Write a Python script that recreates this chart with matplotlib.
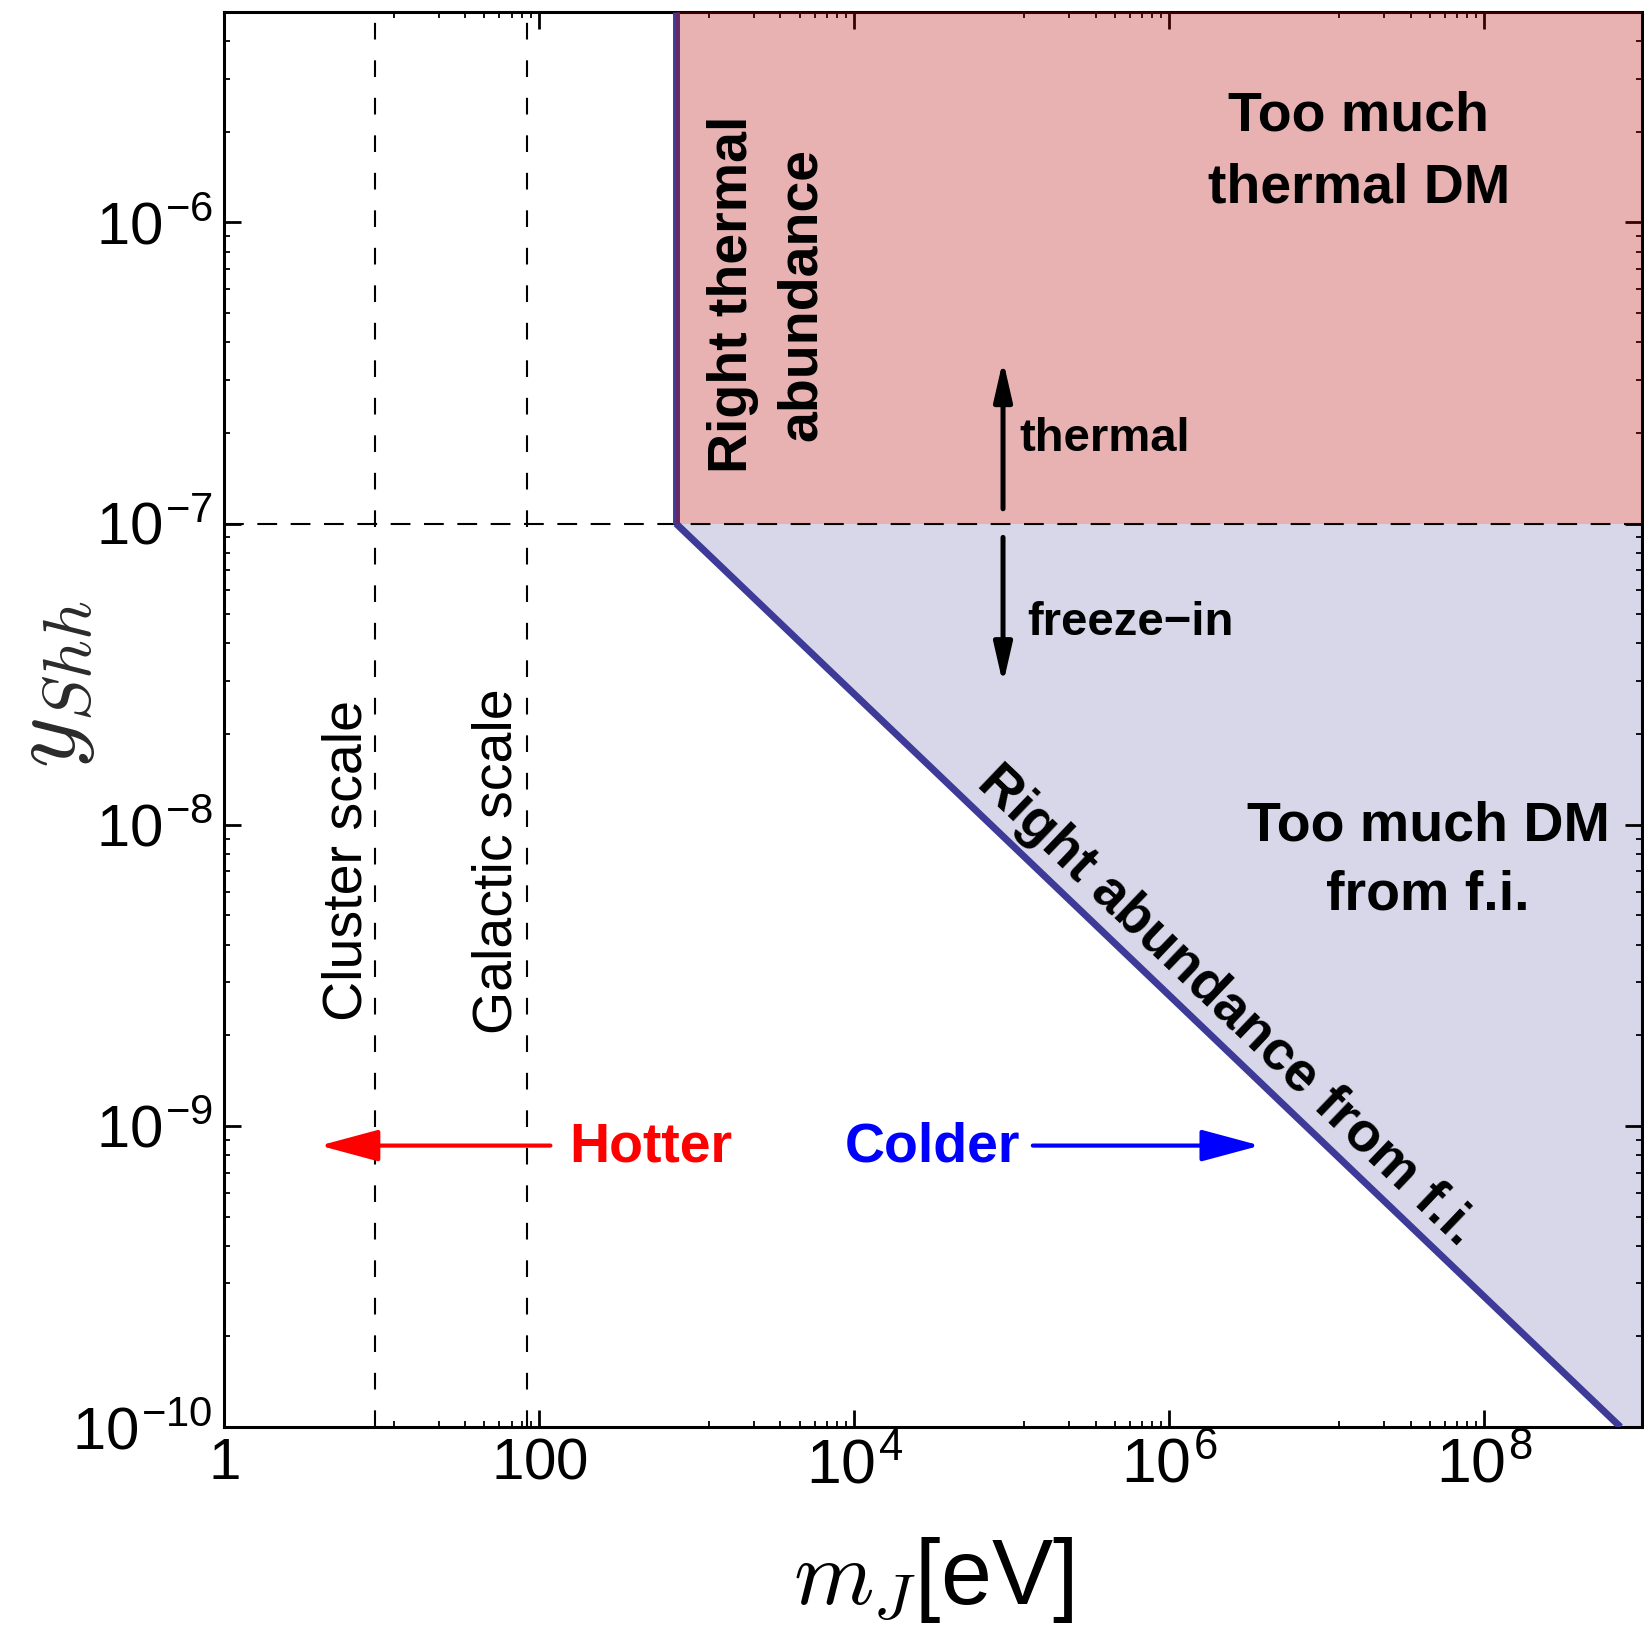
import math
import matplotlib
matplotlib.use('Agg')
import matplotlib.pyplot as plt
from matplotlib.ticker import FixedLocator, FixedFormatter, NullFormatter, LogLocator

# ---------------- data ----------------
x_limits = [1.0, 1e9]
y_limits = [1e-10, 5e-6]
thermal_mass = 740.0
thermal_coupling = 1e-7
fi_line_mass = [740.0, 7.3e8]
fi_line_coupling = [1e-7, 1e-10]
cluster_scale = 9.1
galactic_scale = 84.0
x_major_ticks = [1, 1e2, 1e4, 1e6, 1e8]
x_tick_labels = ['$1$', '$100$', '$10^{4}$', '$10^{6}$', '$10^{8}$']
y_major_ticks = [1e-10, 1e-9, 1e-8, 1e-7, 1e-6]
y_tick_labels = ['$10^{-10}$', '$10^{-9}$', '$10^{-8}$', '$10^{-7}$', '$10^{-6}$']
hotter_arrow_mass = [118.0, 4.05]        # tail, head
colder_arrow_mass = [1.36e5, 3.77e6]     # tail, head
direction_arrow_coupling = 8.6e-10
regime_arrow_mass = 8.8e4
thermal_arrow_coupling = [1.12e-7, 3.49e-7]
freezein_arrow_coupling = [9.0e-8, 2.93e-8]

# ---------------- style ----------------
plt.rcParams.update({
    'font.family': ['Liberation Sans', 'DejaVu Sans'],
    'mathtext.fontset': 'custom',
    'mathtext.rm': 'Liberation Sans',
    'mathtext.it': 'cmmi10',
    'mathtext.bf': 'Liberation Sans:bold',
    'mathtext.sf': 'Liberation Sans',
})
line_color = '#3D3A98'
red_fill = (0.72, 0.0, 0.0)

fig = plt.figure(figsize=(16.44, 16.27), dpi=100)
ax = fig.add_axes([0.13625, 0.12293, 0.86253, 0.86970])
ax.set_xscale('log')
ax.set_yscale('log')
ax.set_xlim(*x_limits)
ax.set_ylim(*y_limits)

# regions
ax.fill([fi_line_mass[0], x_limits[1], x_limits[1], fi_line_mass[1]],
        [fi_line_coupling[0], fi_line_coupling[0], fi_line_coupling[1], fi_line_coupling[1]],
        color=line_color, alpha=0.2, lw=0, zorder=1)
ax.fill_between([thermal_mass, x_limits[1]], thermal_coupling, y_limits[1],
                color=red_fill, alpha=0.3, lw=0, zorder=3)

# boundary lines
ax.plot(fi_line_mass, fi_line_coupling, color=line_color, lw=5, zorder=2.8,
        solid_capstyle='butt')
ax.plot([thermal_mass, thermal_mass], [thermal_coupling, y_limits[1]],
        color=line_color, lw=5, zorder=2.8, solid_capstyle='butt')

# dashed reference lines
ax.axhline(thermal_coupling, color='k', lw=1.5, dashes=(9.5, 6.5), zorder=2)
ax.axvline(cluster_scale, color='k', lw=1.5, dashes=(8, 10), zorder=2)
ax.axvline(galactic_scale, color='k', lw=1.5, dashes=(8, 10), zorder=2)

# ticks
ax.xaxis.set_major_locator(FixedLocator(x_major_ticks))
ax.xaxis.set_major_formatter(FixedFormatter(x_tick_labels))
edges = x_major_ticks + [x_major_ticks[-1] * 100]
x_minor = []
for a, b in zip(edges[:-1], edges[1:]):
    for k in range(1, 9):
        v = a + k * (b - a) / 9.0
        if x_limits[0] < v < x_limits[1]:
            x_minor.append(v)
ax.xaxis.set_minor_locator(FixedLocator(x_minor))
ax.xaxis.set_minor_formatter(NullFormatter())
ax.yaxis.set_major_locator(FixedLocator(y_major_ticks))
ax.yaxis.set_major_formatter(FixedFormatter(y_tick_labels))
ax.yaxis.set_minor_locator(LogLocator(base=10, subs=range(2, 10), numticks=50))
ax.yaxis.set_minor_formatter(NullFormatter())

ax.tick_params(which='both', direction='in', top=True, right=True, colors='k')
ax.tick_params(which='major', length=12, width=2, pad=7)
ax.tick_params(which='minor', length=4, width=1.3)
ax.tick_params(axis='y', which='major', labelsize=43, pad=8)
ax.tick_params(axis='x', which='major', labelsize=42)
for s in ax.spines.values():
    s.set_linewidth(2.2)

fig.canvas.draw()
for lbl, txt in zip(ax.get_xticklabels(), x_tick_labels):
    if '^' in txt:
        lbl.set_fontsize(45)

# axis labels
ax.set_xlabel('$m_J$[eV]', fontsize=66, va='center', ha='center')
ax.xaxis.set_label_coords(0.5, -0.108)
ax.set_ylabel('$y_{Shh}$', fontsize=70, va='center', ha='center', color='#2a2a2a')
ax.yaxis.set_label_coords(-0.121, 0.525)

# region labels
big = dict(fontsize=40, fontweight='bold', transform=ax.transAxes, zorder=5)
ax.text(0.8004, 0.9159, 'Too much', ha='center', va='baseline', **big)
ax.text(0.8004, 0.8654, 'thermal DM', ha='center', va='baseline', **big)
ax.text(0.8491, 0.4148, 'Too much DM', ha='center', va='baseline', **big)
ax.text(0.8491, 0.3654, 'from f.i.', ha='center', va='baseline', **big)
ax.text(0.3685, 0.8007, 'Right thermal', ha='center', va='baseline', rotation=90,
        rotation_mode='anchor', **big)
ax.text(0.4173, 0.8007, 'abundance', ha='center', va='baseline', rotation=90,
        rotation_mode='anchor', **big)

p0 = ax.transData.transform((fi_line_mass[0], fi_line_coupling[0]))
p1 = ax.transData.transform((fi_line_mass[1], fi_line_coupling[1]))
angle = math.degrees(math.atan2(p1[1] - p0[1], p1[0] - p0[0]))
ax.text(0.7071, 0.2971, 'Right abundance from f.i.', ha='center', va='center',
        rotation=angle, rotation_mode='anchor', **big)

reg = dict(fontsize=40, transform=ax.transAxes, zorder=5)
ax.text(0.0971, 0.40, 'Cluster scale', ha='center', va='baseline', rotation=90,
        rotation_mode='anchor', **reg)
ax.text(0.2029, 0.40, 'Galactic scale', ha='center', va='baseline', rotation=90,
        rotation_mode='anchor', **reg)

small = dict(fontsize=34, fontweight='bold', transform=ax.transAxes, zorder=5)
ax.text(0.5607, 0.6898, 'thermal', ha='left', va='baseline', **small)
ax.text(0.5666, 0.5597, 'freeze\u2212in', ha='left', va='baseline', **small)

ax.text(0.2433, 0.1873, 'Hotter', ha='left', va='baseline', color='#FF0000', **big)
ax.text(0.5614, 0.1873, 'Colder', ha='right', va='baseline', color='#0000FF', **big)

# arrows
def arrow(tail, head, color, lw, hl, hw, ms):
    ax.annotate('', xy=head, xytext=tail, xycoords='data', textcoords='data',
                arrowprops=dict(arrowstyle=f'-|>,head_length={hl},head_width={hw}',
                                lw=lw, color=color, shrinkA=0, shrinkB=0,
                                mutation_scale=ms), zorder=5)

arrow((hotter_arrow_mass[0], direction_arrow_coupling),
      (hotter_arrow_mass[1], direction_arrow_coupling), '#FF0000', 3, 2.6, 0.7, 14)
arrow((colder_arrow_mass[0], direction_arrow_coupling),
      (colder_arrow_mass[1], direction_arrow_coupling), '#0000FF', 3, 2.6, 0.7, 14)
arrow((regime_arrow_mass, thermal_arrow_coupling[0]),
      (regime_arrow_mass, thermal_arrow_coupling[1]), 'k', 3.6, 2.4, 0.55, 10)
arrow((regime_arrow_mass, freezein_arrow_coupling[0]),
      (regime_arrow_mass, freezein_arrow_coupling[1]), 'k', 3.6, 2.4, 0.55, 10)

fig.savefig('out.png', dpi=100)
